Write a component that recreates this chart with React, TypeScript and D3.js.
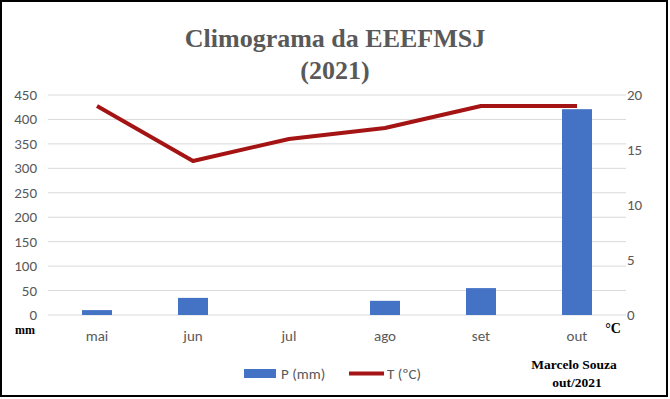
import * as d3 from "d3";

const months = ["mai", "jun", "jul", "ago", "set", "out"];
const rain = [10, 35, 0, 29, 55, 421];
const temp = [19, 14, 16, 17, 19, 19];
const rainTicks = [0, 50, 100, 150, 200, 250, 300, 350, 400, 450];
const tempTicks = [0, 5, 10, 15, 20];

const W = 670;
const H = 399;
const left = 49;
const right = 625;
const top = 95;
const bottom = 315;
const barColor = "#4472C4";
const lineColor = "#A51414";
const tickFont = "Calibri, Carlito, 'Open Sans', sans-serif";
const serif = "'Times New Roman', 'Liberation Serif', serif";

export default function App() {
  const x = d3.scaleBand().domain(months).range([left, right]).paddingInner(0).paddingOuter(0);
  const yRain = d3.scaleLinear().domain([0, 450]).range([bottom, top]);
  const yTemp = d3.scaleLinear().domain([0, 20]).range([bottom, top]);
  const cx = (m: string) => (x(m) ?? 0) + x.bandwidth() / 2;
  const barW = 30;

  const line = d3
    .line<number>()
    .x((_, i) => cx(months[i]))
    .y((d) => yTemp(d));

  return (
    <svg width={W} height={H} style={{ position: "absolute", left: 0, top: 0 }}>
      <rect x={0} y={0} width={W} height={H} fill="white" />
      <rect x={1} y={1} width={666} height={395} fill="none" stroke="#000" strokeWidth={2} />

      <text x={335} y={47} textAnchor="middle" fontFamily={serif} fontWeight="bold" fontSize={26} fill="#595959">
        Climograma da EEEFMSJ
      </text>
      <text x={335} y={79} textAnchor="middle" fontFamily={serif} fontWeight="bold" fontSize={26} fill="#595959">
        (2021)
      </text>

      {rainTicks.map((t) => (
        <g key={t}>
          <line x1={48} x2={626} y1={yRain(t)} y2={yRain(t)} stroke="#D9D9D9" strokeWidth={1} />
          <text x={37} y={yRain(t) + 5} textAnchor="end" fontFamily={tickFont} fontSize={15} fill="#595959">
            {t}
          </text>
        </g>
      ))}
      {tempTicks.map((t) => (
        <text key={t} x={627} y={yTemp(t) + 5} textAnchor="start" fontFamily={tickFont} fontSize={15} fill="#595959">
          {t}
        </text>
      ))}

      {months.map((m, i) => (
        <rect key={m} x={cx(m) - barW / 2} y={yRain(rain[i])} width={barW} height={bottom - yRain(rain[i])} fill={barColor} />
      ))}

      <path d={line(temp) ?? ""} fill="none" stroke={lineColor} strokeWidth={4} strokeLinejoin="round" />

      {months.map((m) => (
        <text key={m} x={cx(m)} y={341} textAnchor="middle" fontFamily={tickFont} fontSize={15} fill="#595959">
          {m}
        </text>
      ))}

      <text x={25} y={334} textAnchor="middle" fontFamily={serif} fontWeight="bold" fontSize={12} fill="#000">
        mm
      </text>
      <text x={613} y={333} textAnchor="middle" fontFamily={serif} fontWeight="bold" fontSize={14} fill="#000">
        °C
      </text>

      <rect x={244} y={369} width={32} height={9} fill={barColor} />
      <text x={281} y={379} fontFamily={tickFont} fontSize={15} fill="#595959">
        P (mm)
      </text>
      <line x1={349} x2={384} y1={373.5} y2={373.5} stroke={lineColor} strokeWidth={4} />
      <text x={387} y={379} fontFamily={tickFont} fontSize={15} fill="#595959">
        T (ºC)
      </text>

      <text x={574} y={369} textAnchor="middle" fontFamily={serif} fontWeight="bold" fontSize={13.5} fill="#000">
        Marcelo Souza
      </text>
      <text x={577} y={387} textAnchor="middle" fontFamily={serif} fontWeight="bold" fontSize={13.5} fill="#000">
        out/2021
      </text>
    </svg>
  );
}
